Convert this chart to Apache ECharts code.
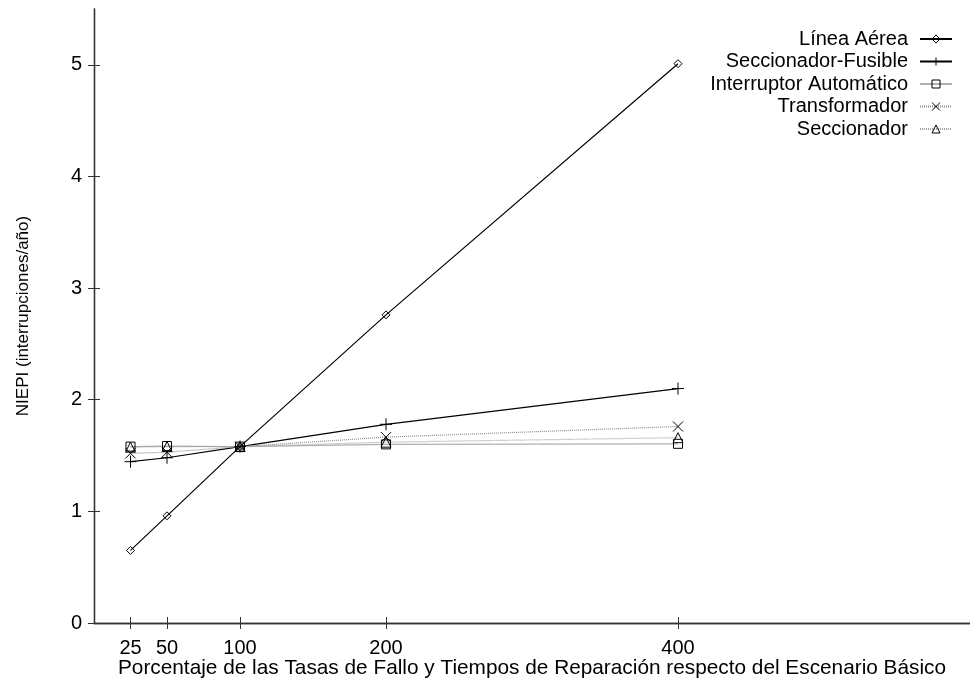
<!DOCTYPE html>
<html>
<head>
<meta charset="utf-8">
<script src="https://cdn.jsdelivr.net/npm/echarts@6/dist/echarts.min.js"></script>
<style>
  html, body { margin: 0; padding: 0; background: #fff; }
  #chart { width: 970px; height: 686px; }
</style>
</head>
<body>
<div id="chart"></div>
<script>
// porcentaje respecto del escenario básico
var xValues = [25, 50, 100, 200, 400];
var yTicks = [0, 1, 2, 3, 4, 5];

var lineaAerea = [0.65, 0.96, 1.58, 2.76, 5.01];
var seccFusible = [1.445, 1.48, 1.58, 1.78, 2.10];
var interruptor = [1.58, 1.585, 1.58, 1.60, 1.605];
var transformador = [1.52, 1.53, 1.58, 1.665, 1.76];
var seccionador = [1.575, 1.58, 1.58, 1.62, 1.66];

var FONT = 'Liberation Sans, Arial, sans-serif';
var FS = 20;
// marcadores estilo gnuplot (solo contorno)
var diamondPath = 'path://M5,0L10,5L5,10L0,5Z';
var plusPath = 'path://M0,5H10M5,0V10';
var squarePath = 'path://M0,0H10V10H0Z';
var crossPath = 'path://M0,0L10,10M10,0L0,10';
var trianglePath = 'path://M5,0L10,9L0,9Z';

function pairs(vals) {
  return xValues.map(function (x, i) { return [x, vals[i]]; });
}

function mkSeries(name, vals, symbol, size, lineColor, lineType) {
  return {
    name: name,
    type: 'line',
    data: pairs(vals),
    symbol: symbol,
    symbolSize: size,
    showAllSymbol: true,
    lineStyle: { color: lineColor, width: 1.2, type: lineType },
    itemStyle: { color: 'rgba(255,255,255,0)', borderColor: '#000', borderWidth: 1 },
    emphasis: { disabled: true },
    z: 2
  };
}

var chart = echarts.init(document.getElementById('chart'));
var axisLine = { show: true, lineStyle: { color: '#333', width: 1.3 } };

chart.setOption({
  animation: false,
  grid: { left: 94, right: 0, top: 9, bottom: 63, outerBoundsMode: 'none', containLabel: false },
  legend: {
    orient: 'vertical',
    right: 12,
    top: 24,
    align: 'right',
    itemWidth: 32,
    itemHeight: 10,
    itemGap: 2.5,
    itemStyle: { color: 'rgba(255,255,255,0)', borderColor: '#000', borderWidth: 1 },
    textStyle: { fontFamily: FONT, fontSize: FS, color: '#000', padding: [0, 7, 0, 0] },
    data: ['Línea Aérea', 'Seccionador-Fusible', 'Interruptor Automático', 'Transformador', 'Seccionador']
  },
  xAxis: [{
    type: 'value',
    min: 0,
    max: 600,
    name: 'Porcentaje de las Tasas de Fallo y Tiempos de Reparación respecto del Escenario Básico',
    nameLocation: 'middle',
    nameGap: 35,
    nameMoveOverlap: false,
    nameTextStyle: { fontFamily: FONT, fontSize: 20.8, color: '#000' },
    axisLine: axisLine,
    axisTick: { show: true, inside: true, length: 6, customValues: xValues, lineStyle: { color: '#333' } },
    axisLabel: { customValues: xValues, fontFamily: FONT, fontSize: FS, color: '#000', margin: 15 },
    splitLine: { show: false }
  }, {
    type: 'value',
    position: 'top',
    min: 0,
    max: 600,
    axisLine: axisLine,
    axisTick: { show: true, inside: true, length: 6, customValues: xValues, lineStyle: { color: '#333' } },
    axisLabel: { show: false },
    splitLine: { show: false }
  }],
  yAxis: [{
    type: 'value',
    min: 0,
    max: 5.5,
    name: 'NIEPI (interrupciones/año)',
    nameLocation: 'middle',
    nameRotate: 90,
    nameGap: 62,
    nameTextStyle: { fontFamily: FONT, fontSize: 17, color: '#000' },
    axisLine: axisLine,
    axisTick: { show: true, inside: true, length: 6, customValues: yTicks, lineStyle: { color: '#333' } },
    axisLabel: { customValues: yTicks, fontFamily: FONT, fontSize: FS, color: '#000', margin: 12 },
    splitLine: { show: false }
  }, {
    type: 'value',
    position: 'right',
    min: 0,
    max: 5.5,
    axisLine: axisLine,
    axisTick: { show: true, inside: true, length: 6, customValues: yTicks, lineStyle: { color: '#333' } },
    axisLabel: { show: false },
    splitLine: { show: false }
  }],
  series: [
    mkSeries('Línea Aérea', lineaAerea, diamondPath, 8, '#000', 'solid'),
    mkSeries('Seccionador-Fusible', seccFusible, plusPath, 12, '#000', 'solid'),
    mkSeries('Interruptor Automático', interruptor, squarePath, 9, '#b0b0b0', 'solid'),
    mkSeries('Transformador', transformador, crossPath, 10, '#909090', [1, 1]),
    mkSeries('Seccionador', seccionador, trianglePath, 10, '#a0a0a0', [1, 1])
  ]
});
</script>
</body>
</html>
